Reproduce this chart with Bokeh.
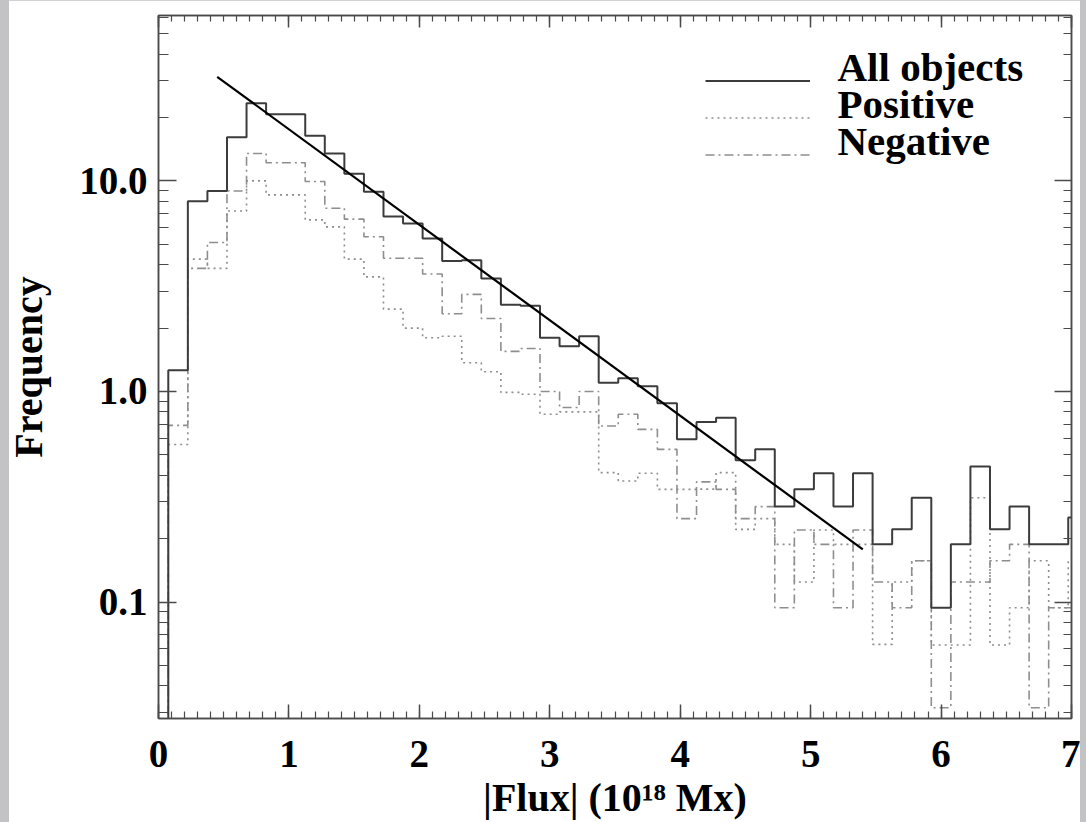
import numpy as np
from bokeh.plotting import figure
from bokeh.models import (FixedTicker, CustomJSTickFormatter, LinearAxis, LogAxis,
                          Legend, LegendItem, Range1d, Label)
from bokeh.embed import file_html
from bokeh.resources import INLINE

# ---------------- data ----------------
bin_width = 0.15
bin_centers = [0.15, 0.30, 0.45, 0.60, 0.75, 0.90, 1.05, 1.20, 1.35, 1.50,
               1.65, 1.80, 1.95, 2.10, 2.25, 2.40, 2.55, 2.70, 2.85, 3.00,
               3.15, 3.30, 3.45, 3.60, 3.75, 3.90, 4.05, 4.20, 4.35, 4.50,
               4.65, 4.80, 4.95, 5.10, 5.25, 5.40, 5.55, 5.70, 5.85, 6.00,
               6.15, 6.30, 6.45, 6.60, 6.75, 6.90, 7.05]

all_objects = [1.26, 8.0, 8.96, 16.1, 23.4, 20.7, 20.7, 16.4, 13.5, 10.8,
               8.87, 6.78, 6.28, 5.33, 4.17, 4.2, 3.44, 2.58, 2.55, 1.80,
               1.64, 1.83, 1.10, 1.155, 1.06, 0.879, 0.593, 0.716, 0.751, 0.471,
               0.531, 0.284, 0.343, 0.409, 0.284, 0.409, 0.188, 0.2215, 0.313, 0.094,
               0.188, 0.44, 0.2215, 0.284, 0.188, 0.188, 0.252]

positive = [0.56, 4.25, 3.84, 7.2, 10.0, 8.58, 8.58, 6.53, 6.05, 4.25,
            3.50, 2.46, 2.0, 1.80, 1.83, 1.37, 1.24, 0.99, 0.97, 0.78,
            0.80, 0.80, 0.412, 0.376, 0.409, 0.343, 0.343, 0.344, 0.412, 0.2215,
            0.249, 0.188, 0.1245, 0.22, 0.188, 0.188, 0.063, 0.1245, 0.157, 0.0625,
            0.0625, 0.313, 0.0625, 0.094, 0.157, 0.094, 0.157]

negative = [0.69, 3.84, 5.1, 8.96, 13.5, 12.2, 12.2, 9.93, 7.42, 6.58,
            5.43, 4.29, 4.29, 3.61, 2.34, 2.89, 2.22, 1.55, 1.60, 1.0,
            0.839, 1.0, 0.686, 0.779, 0.661, 0.531, 0.249, 0.372, 0.343, 0.249,
            0.284, 0.094, 0.22, 0.188, 0.094, 0.22, 0.1245, 0.094, 0.157, 0.0315,
            0.1245, 0.1245, 0.157, 0.188, 0.0315, 0.094, 0.094]

# exponential fit drawn over the histogram (end points)
fit_x = [0.45, 5.40]
fit_y = [31.2, 0.178]

x_major = [0, 1, 2, 3, 4, 5, 6, 7]
y_major = [0.1, 1.0, 10.0]
legend_labels = ["All objects", "Positive", "Negative"]
x_title = "|Flux| (10\u00b9\u2078 Mx)"
y_title = "Frequency"

x_min, x_max = 0.0, 7.0
y_min, y_max = 0.028, 61.0

# ---------------- helpers ----------------
def step_path(centers, vals, w, floor):
    c = np.asarray(centers, dtype=float)
    edges = np.concatenate([c - w / 2.0, [c[-1] + w / 2.0]])
    xs, ys = [edges[0]], [floor]
    for i, v in enumerate(vals):
        xs += [edges[i], edges[i + 1]]
        ys += [v, v]
    return xs, ys

FONT = "Liberation Serif"
AX = "#4a4a4a"

p = figure(width=1080, height=822,
           x_range=Range1d(x_min, x_max), y_range=Range1d(y_min, y_max),
           y_axis_type="log", output_backend="svg", toolbar_location=None,
           min_border_left=158, min_border_right=9, min_border_top=15,
           min_border_bottom=103)
p.grid.visible = False
p.background_fill_color = "white"
p.border_fill_color = "white"
p.outline_line_color = AX
p.outline_line_width = 1.5

floor = y_min * 0.3
xa, ya = step_path(bin_centers, all_objects, bin_width, floor)
xp, yp = step_path(bin_centers, positive, bin_width, floor)
xn, yn = step_path(bin_centers, negative, bin_width, floor)

r_pos = p.line(xp, yp, line_color="#8e8e8e", line_width=1.6, line_dash="2 4")
r_neg = p.line(xn, yn, line_color="#8e8e8e", line_width=1.6, line_dash="9 4 2 4")
r_all = p.line(xa, ya, line_color="#3c3c3c", line_width=2)
p.line(fit_x, fit_y, line_color="black", line_width=2.2)

# ---------------- axes ----------------
x_minor = [round(0.1 * i, 1) for i in range(0, 71)]
y_minor = [m * d for d in (0.01, 0.1, 1.0, 10.0) for m in range(2, 10)]
xt = FixedTicker(ticks=x_major, minor_ticks=x_minor)
yt = FixedTicker(ticks=y_major, minor_ticks=y_minor)

def style_axis(ax, major_in, minor_in, labels=True):
    ax.axis_line_color = AX
    ax.axis_line_width = 1.5
    ax.major_tick_line_color = AX
    ax.minor_tick_line_color = AX
    ax.major_tick_line_width = 1.5
    ax.minor_tick_line_width = 1.2
    ax.major_tick_in = major_in
    ax.major_tick_out = 0
    ax.minor_tick_in = minor_in
    ax.minor_tick_out = 0
    ax.major_label_text_font = FONT
    ax.major_label_text_font_style = "bold"
    ax.major_label_text_color = "black"
    ax.axis_label_text_font = FONT
    ax.axis_label_text_font_style = "bold"
    ax.axis_label_text_color = "black"
    ax.axis_label_text_font_size = "40px"
    if labels:
        ax.major_label_text_font_size = "39px"
    else:
        ax.major_label_text_font_size = "0px"
        ax.major_label_standoff = 0
        ax.formatter = CustomJSTickFormatter(code="return '';")

xb = p.xaxis[0]
xb.ticker = xt
style_axis(xb, 14, 7)
xb.major_label_standoff = 22
xb.axis_label = x_title
xb.axis_label_standoff = 5

yl = p.yaxis[0]
yl.ticker = yt
yl.formatter = CustomJSTickFormatter(code="return tick.toFixed(1);")
style_axis(yl, 18, 10)
yl.major_label_standoff = 11
yl.axis_label = y_title
yl.axis_label_standoff = 25

xtop = LinearAxis(ticker=xt)
style_axis(xtop, 12, 6, labels=False)
p.add_layout(xtop, "above")

yright = LogAxis(ticker=yt)
style_axis(yright, 17, 8, labels=False)
p.add_layout(yright, "right")

# ---------------- legend: line samples + texts ----------------
legend = Legend(items=[LegendItem(label=legend_labels[0], renderers=[r_all]),
                       LegendItem(label=legend_labels[1], renderers=[r_pos]),
                       LegendItem(label=legend_labels[2], renderers=[r_neg])],
                location=(547, 545))
legend.label_text_font_size = "1px"
legend.label_text_alpha = 0
legend.glyph_width = 105
legend.glyph_height = 37
legend.label_height = 37
legend.label_width = 1
legend.label_standoff = 0
legend.spacing = 0
legend.padding = 0
legend.margin = 0
legend.border_line_alpha = 0
legend.background_fill_alpha = 0
p.add_layout(legend, "center")

for txt, yb in zip(legend_labels, [652, 615, 578]):
    p.add_layout(Label(x=679, y=yb, x_units="screen", y_units="screen", text=txt,
                       text_align="left", text_baseline="alphabetic",
                       text_font=FONT, text_font_style="bold", text_font_size="41px",
                       text_color="black"))

html = file_html(p, INLINE)
html = html.replace("</head>",
                    "<style>html,body{background:#c3c3c6 !important;}"
                    "body::before{content:'';position:fixed;left:0;top:0;width:9px;"
                    "height:100%;background:#c3c3c6;z-index:10;}</style></head>", 1)
open("out.html", "w").write(html)
